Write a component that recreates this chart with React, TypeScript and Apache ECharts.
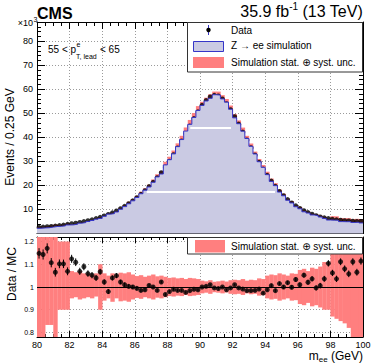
import { useEffect, useRef } from 'react';
import * as echarts from 'echarts';

// ---- data ----
const binStart = 80;
const binWidth = 0.25;

// data events per 0.25 GeV bin, in units of 10^3
const dataEvents = [
  2.5, 2.65, 2.8, 2.95, 3.1, 3.3, 3.5, 3.8,
  4.05, 4.3, 4.6, 4.95, 5.3, 5.7, 6.2, 6.7,
  7.3, 7.9, 8.6, 9.4,
  10.3, 11.3, 12.4, 13.6, 14.9, 16.3, 17.8, 19.5,
  21.3, 23.2, 25.3, 27.6, 30.1, 32.8, 35.6, 38.5,
  41.6, 44.7, 47.8, 50.6, 53.3, 55.3, 56.8, 57.5,
  57.2, 56.0, 54.0, 51.5, 48.6, 45.5, 42.2, 38.9,
  35.7, 32.6, 29.6, 26.8, 24.2, 21.8, 19.6, 17.5,
  15.7, 14.1, 12.7, 11.5, 10.4, 9.5, 8.7, 8.0,
  7.4, 6.9, 6.5, 6.2, 5.9, 5.7, 5.5, 5.3,
  5.2, 5.1, 5.0, 4.9,
];

// Data / MC per bin
const dataOverMC = [
  1.148, 1.143, 1.17, 1.107, 1.065, 1.102, 1.102, 1.069,
  1.124, 1.109, 1.069, 1.089, 1.059, 1.052, 1.04, 1.067,
  1.022, 0.98, 1.04, 1.05,
  1.022, 1.01, 1.003, 1.0, 0.994, 0.985, 0.988, 1.007,
  1.0, 0.985, 1.022, 0.967, 0.98, 0.99, 0.985, 0.985,
  0.976, 0.984, 0.99, 0.988, 1.0, 1.003, 1.01, 0.996,
  0.993, 1.0, 0.988, 0.996, 1.01, 0.996, 0.991, 0.984,
  0.984, 0.985, 0.991, 0.973, 0.988, 1.006, 0.984, 1.015,
  1.0, 1.019, 0.999, 1.033, 1.01, 1.052, 1.021, 1.036,
  0.996, 1.006, 1.036, 1.104, 1.062, 1.036, 1.111, 1.08,
  1.058, 1.111, 1.065, 1.114,
];

// simulation stat. (+) syst. uncertainty, lower / upper edge relative to MC
const uncLow = [
  0.70, 0.70, 0.833, 0.833, 0.70, 0.90, 0.90, 0.90,
  0.95, 0.955, 0.945, 0.95, 0.955, 0.95, 0.958, 0.90,
  0.94, 0.95, 0.935, 0.95,
  0.937, 0.94, 0.935, 0.945,
  0.952, 0.948, 0.955, 0.95, 0.945, 0.953, 0.95, 0.955,
  0.96, 0.958, 0.962, 0.96, 0.965, 0.96, 0.962, 0.965,
  0.972, 0.975, 0.97, 0.977, 0.975, 0.972, 0.976, 0.97,
  0.968, 0.97, 0.965, 0.972, 0.968, 0.97, 0.962, 0.965,
  0.95, 0.945, 0.948, 0.94, 0.945, 0.95, 0.94, 0.942,
  0.925, 0.92, 0.93, 0.915, 0.92, 0.91,
  0.90, 0.90,
  0.87, 0.86, 0.85, 0.84, 0.82,
  0.70, 0.70, 0.70,
];
const uncHigh = [
  1.30, 1.30, 1.30, 1.30, 1.30, 1.20, 1.20, 1.20,
  1.07, 1.065, 1.07, 1.06, 1.06, 1.055, 1.06, 1.10,
  1.06, 1.05, 1.06, 1.055,
  1.063, 1.06, 1.065, 1.055,
  1.048, 1.052, 1.045, 1.05, 1.055, 1.047, 1.05, 1.045,
  1.04, 1.042, 1.038, 1.04, 1.035, 1.04, 1.038, 1.035,
  1.028, 1.025, 1.03, 1.023, 1.025, 1.028, 1.024, 1.03,
  1.032, 1.03, 1.035, 1.028, 1.032, 1.03, 1.038, 1.035,
  1.05, 1.055, 1.052, 1.06, 1.055, 1.05, 1.06, 1.058,
  1.075, 1.08, 1.07, 1.085, 1.08, 1.09,
  1.11, 1.11,
  1.30, 1.30, 1.30, 1.30, 1.30,
  1.30, 1.30, 1.30,
];

// white rendering gaps in the hatched fill (data coords)
const fillGapLow = [[86.73, 17.3], [94.6, 17.3]];
const fillGapHigh = [[89.4, 43.9], [91.9, 43.9]];

const xRange = [80, 100];
const yTopRange = [0, 88];
const yRatioRange = [0.78, 1.22];

// ---- styles ----
const FONT = '"Liberation Sans", Arial, Helvetica, "DejaVu Sans", sans-serif';
const SALMON = '#ff7f7f';
const LAVENDER = '#cacae3';
const BLUE = '#3535c8';
const GRIDC = '#9a9a9a';

export default function App() {
  const ref = useRef<HTMLDivElement>(null);

  useEffect(() => {
    document.body.style.margin = '0';
    if (!ref.current) return;
    const chart = echarts.init(ref.current, undefined, { renderer: 'svg' });

    const ctx = document.createElement('canvas').getContext('2d')!;
    const measure = (t: string, f: string) => {
      ctx.font = f;
      return ctx.measureText(t).width;
    };

    const edges = dataEvents.map((_, i) => [binStart + i * binWidth, binStart + (i + 1) * binWidth]);
    const centers = edges.map(([a, b]) => (a + b) / 2);
    const mc = dataEvents.map((d, i) => d / dataOverMC[i]);
    const stepPts: number[][] = [];
    mc.forEach((v, i) => {
      stepPts.push([edges[i][0], v], [edges[i][1], v]);
    });
    const topBand = mc.map((v, i) => [edges[i][0], edges[i][1], v * uncLow[i], v * uncHigh[i]]);
    const ratioBand = uncLow.map((l, i) => [edges[i][0], edges[i][1], l, uncHigh[i]]);
    const dataPts = dataEvents.map((v, i) => [centers[i], v]);
    const ratioPts = dataOverMC.map((r, i) => [centers[i], r]);
    const ratioErr = dataOverMC.map((r, i) => [centers[i], r, r / Math.sqrt(dataEvents[i] * 1000)]);

    const bandRender = (params: any, api: any) => {
      const p1 = api.coord([api.value(0), api.value(3)]);
      const p2 = api.coord([api.value(1), api.value(2)]);
      const cs = params.coordSys;
      const rect = echarts.graphic.clipRectByRect(
        { x: p1[0], y: p1[1], width: p2[0] - p1[0] + 0.3, height: p2[1] - p1[1] },
        { x: cs.x, y: cs.y, width: cs.width, height: cs.height }
      );
      if (!rect) return null;
      return { type: 'rect', shape: rect, style: { fill: SALMON } };
    };
    const errRender = (params: any, api: any) => {
      const x = api.value(0), r = api.value(1), e = api.value(2);
      const a = api.coord([x, r - e]);
      const b = api.coord([x, r + e]);
      return { type: 'line', shape: { x1: a[0], y1: a[1], x2: b[0], y2: b[1] }, style: { stroke: '#000', lineWidth: 1 } };
    };

    const blackLine = { color: '#000', width: 1 };
    const dotted = { show: true, lineStyle: { color: GRIDC, width: 1, type: [1, 2] } };
    const xBase = (grid: number, pos: string, labels: boolean, split: boolean, major: number, minor: number) => ({
      type: 'value', gridIndex: grid, position: pos, min: xRange[0], max: xRange[1], interval: 2,
      axisLine: { show: true, onZero: false, lineStyle: blackLine },
      axisTick: { show: true, inside: true, length: major, lineStyle: blackLine },
      minorTick: { show: true, splitNumber: 4, length: minor, lineStyle: blackLine },
      axisLabel: labels
        ? { show: true, fontSize: 9, fontFamily: FONT, color: '#000', margin: 3, showMinLabel: true, showMaxLabel: true }
        : { show: false },
      splitLine: split ? dotted : { show: false },
      minorSplitLine: { show: false },
    });

    const option: any = {
      animation: false,
      grid: [
        { left: 37, top: 22, width: 326, height: 211.5, outerBoundsMode: 'none' },
        { left: 37, top: 237, width: 326, height: 100, outerBoundsMode: 'none' },
      ],
      xAxis: [
        xBase(0, 'bottom', false, true, 7, 4),
        xBase(0, 'top', false, false, 7, 4),
        xBase(1, 'bottom', true, true, 6, 3),
        xBase(1, 'top', false, false, 6, 3),
      ],
      yAxis: [
        {
          type: 'value', gridIndex: 0, position: 'left', min: yTopRange[0], max: yTopRange[1], interval: 10,
          axisLine: { show: true, onZero: false, lineStyle: blackLine },
          axisTick: { show: true, inside: true, length: 8, lineStyle: blackLine },
          axisLabel: { show: true, fontSize: 9, fontFamily: FONT, color: '#000', margin: 4, showMinLabel: false, showMaxLabel: false },
          splitLine: dotted,
        },
        {
          type: 'value', gridIndex: 0, position: 'left', min: yTopRange[0], max: yTopRange[1], interval: 2,
          axisLine: { show: false }, axisTick: { show: true, inside: true, length: 4, lineStyle: blackLine },
          axisLabel: { show: false }, splitLine: { show: false },
        },
        {
          type: 'value', gridIndex: 0, position: 'right', min: yTopRange[0], max: yTopRange[1], interval: 10,
          axisLine: { show: true, onZero: false, lineStyle: blackLine },
          axisTick: { show: true, inside: true, length: 8, lineStyle: blackLine },
          axisLabel: { show: false }, splitLine: { show: false },
        },
        {
          type: 'value', gridIndex: 0, position: 'right', min: yTopRange[0], max: yTopRange[1], interval: 2,
          axisLine: { show: false }, axisTick: { show: true, inside: true, length: 4, lineStyle: blackLine },
          axisLabel: { show: false }, splitLine: { show: false },
        },
        {
          type: 'value', gridIndex: 1, position: 'left', min: yRatioRange[0], max: yRatioRange[1], splitNumber: 5,
          axisLine: { show: true, onZero: false, lineStyle: blackLine },
          axisTick: { show: true, inside: true, length: 6, lineStyle: blackLine },
          axisLabel: {
            show: true, fontSize: 7, fontFamily: FONT, color: '#000', margin: 3, showMinLabel: false, showMaxLabel: false,
            formatter: (v: number) => (Math.abs(v - 1) < 1e-6 ? '1' : v.toFixed(1)),
          },
          splitLine: dotted,
        },
        {
          type: 'value', gridIndex: 1, position: 'right', min: yRatioRange[0], max: yRatioRange[1], splitNumber: 5,
          axisLine: { show: true, onZero: false, lineStyle: blackLine },
          axisTick: { show: true, inside: true, length: 6, lineStyle: blackLine },
          axisLabel: { show: false }, splitLine: { show: false },
        },
      ],
      series: [
        {
          type: 'line', xAxisIndex: 0, yAxisIndex: 0, data: stepPts, showSymbol: false, symbol: 'none',
          lineStyle: { color: BLUE, width: 1 }, areaStyle: { color: LAVENDER, opacity: 1, origin: 'start' },
          silent: true,
        },
        {
          type: 'line', xAxisIndex: 0, yAxisIndex: 0, data: fillGapLow, showSymbol: false, symbol: 'none',
          lineStyle: { color: '#fff', width: 2 }, silent: true,
        },
        {
          type: 'line', xAxisIndex: 0, yAxisIndex: 0, data: fillGapHigh, showSymbol: false, symbol: 'none',
          lineStyle: { color: '#fff', width: 2 }, silent: true,
        },
        {
          type: 'custom', xAxisIndex: 0, yAxisIndex: 0, data: topBand, renderItem: bandRender,
          encode: { x: [0, 1], y: [2, 3] }, silent: true,
        },
        {
          type: 'scatter', xAxisIndex: 0, yAxisIndex: 0, data: dataPts, symbol: 'circle', symbolSize: 5,
          itemStyle: { color: '#000' }, silent: true,
        },
        {
          type: 'custom', xAxisIndex: 2, yAxisIndex: 4, data: ratioBand, renderItem: bandRender,
          encode: { x: [0, 1], y: [2, 3] }, silent: true,
          markLine: {
            silent: true, symbol: ['none', 'none'], label: { show: false },
            lineStyle: { color: '#000', width: 1, type: 'solid' }, data: [{ yAxis: 1 }],
          },
        },
        {
          type: 'custom', xAxisIndex: 2, yAxisIndex: 4, data: ratioErr, renderItem: errRender,
          encode: { x: 0, y: 1 }, silent: true,
        },
        {
          type: 'scatter', xAxisIndex: 2, yAxisIndex: 4, data: ratioPts, symbol: 'circle', symbolSize: 5,
          itemStyle: { color: '#000' }, silent: true,
        },
      ],
    };

    // ---- texts & legends ----
    const f = (size: number, bold = false) => `${bold ? 'bold ' : ''}${size}px ${FONT}`;
    const txt = (text: string, x: number, y: number, font: string, align = 'left', valign = 'middle', extra: any = {}) => ({
      type: 'text', x, y, z: 100, silent: true, ...extra,
      style: { text, font, fill: '#000', align, textAlign: align, verticalAlign: valign, textVerticalAlign: valign },
    });
    const els: any[] = [];

    els.push(txt('CMS', 37, 13, f(16, true)));
    // x10^3
    els.push(txt('×10', 33, 23, f(9), 'right'));
    els.push(txt('3', 33.5, 19, f(7)));

    // lumi
    const lumiR = 363;
    const wL3 = measure(' (13 TeV)', f(16));
    const wL2 = measure('-1', f(10));
    const xL3 = lumiR - wL3;
    const xL2 = xL3 - wL2;
    els.push(txt(' (13 TeV)', xL3, 11.5, f(16)));
    els.push(txt('-1', xL2, 6, f(10)));
    els.push(txt('35.9 fb', xL2, 11.5, f(16), 'right'));

    // selection label
    const sx0 = 48;
    const sw1 = measure('55 < p', f(10));
    els.push(txt('55 < p', sx0, 49, f(10)));
    els.push(txt('e', sx0 + sw1 + 0.5, 44, f(7)));
    els.push(txt('T, lead', sx0 + sw1, 56.5, f(7)));
    const sw2 = measure('T, lead', f(7));
    els.push(txt(' < 65', sx0 + sw1 + sw2 + 0.5, 49, f(10)));

    // top legend
    els.push({ type: 'rect', z: 100, silent: true, shape: { x: 187.5, y: 22.5, width: 175, height: 49.5 }, style: { fill: '#fff', stroke: '#333', lineWidth: 1 } });
    els.push({ type: 'line', z: 101, silent: true, shape: { x1: 208.5, y1: 25, x2: 208.5, y2: 35 }, style: { stroke: BLUE, lineWidth: 1 } });
    els.push({ type: 'circle', z: 102, silent: true, shape: { cx: 208.5, cy: 30, r: 2.2 }, style: { fill: '#000' } });
    els.push({ type: 'rect', z: 101, silent: true, shape: { x: 193.5, y: 41.5, width: 30, height: 10 }, style: { fill: LAVENDER, stroke: BLUE, lineWidth: 1 } });
    els.push({ type: 'rect', z: 101, silent: true, shape: { x: 193, y: 57, width: 31, height: 11 }, style: { fill: SALMON } });
    els.push(txt('Data', 231, 30, f(10), 'left', 'middle', { z: 102 }));
    els.push(txt('Z → ee simulation', 231, 45.5, f(10), 'left', 'middle', { z: 102 }));
    els.push(txt('Simulation stat. ⊕ syst. unc.', 231, 62, f(10), 'left', 'middle', { z: 102 }));

    // bottom legend
    els.push({ type: 'rect', z: 100, silent: true, shape: { x: 187.5, y: 237.5, width: 175, height: 16.5 }, style: { fill: '#fff', stroke: '#333', lineWidth: 1 } });
    els.push({ type: 'rect', z: 101, silent: true, shape: { x: 195, y: 240, width: 30, height: 12.5 }, style: { fill: SALMON } });
    els.push(txt('Simulation stat. ⊕ syst. unc.', 231, 246, f(10), 'left', 'middle', { z: 102 }));

    // axis titles
    els.push(txt('Events / 0.25 GeV', 10, 137, f(12), 'center', 'middle', { rotation: Math.PI / 2 }));
    els.push(txt('Data / MC', 12, 274, f(12), 'center', 'middle', { rotation: Math.PI / 2 }));
    const axR = 363;
    const wA3 = measure(' (GeV)', f(12));
    const wA2 = measure('ee', f(8));
    const xA3 = axR - wA3;
    const xA2 = xA3 - wA2;
    els.push(txt(' (GeV)', xA3, 355.5, f(12)));
    els.push(txt('ee', xA2, 359.5, f(8)));
    els.push(txt('m', xA2, 355.5, f(12), 'right'));

    option.graphic = { elements: els };

    chart.setOption(option);
    return () => chart.dispose();
  }, []);

  return <div ref={ref} style={{ width: 374, height: 363, position: 'absolute', left: 0, top: 0 }} />;
}
